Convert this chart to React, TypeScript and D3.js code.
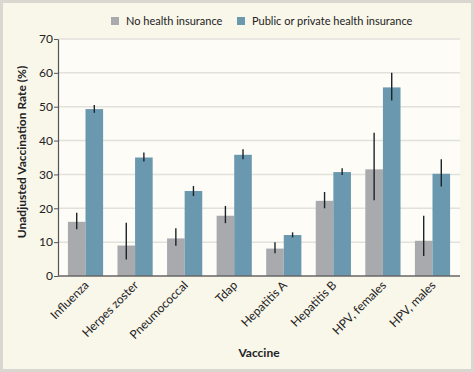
import React, { useEffect, useRef } from "react";
import * as d3 from "d3";

const vaccines = ["Influenza", "Herpes zoster", "Pneumococcal", "Tdap", "Hepatitis A", "Hepatitis B", "HPV, females", "HPV, males"];
const groups = ["No health insurance", "Public or private health insurance"];
const uninsured = [16.0, 9.0, 11.1, 17.8, 8.1, 22.2, 31.5, 10.4];
const uninsuredLow = [13.8, 4.9, 8.9, 15.6, 6.7, 20.0, 22.4, 5.9];
const uninsuredHigh = [18.7, 15.7, 14.1, 20.7, 10.0, 24.8, 42.3, 17.8];
const insured = [49.3, 35.0, 25.1, 35.8, 12.1, 30.7, 55.7, 30.2];
const insuredLow = [48.2, 33.8, 23.6, 34.5, 11.4, 29.8, 51.8, 26.4];
const insuredHigh = [50.5, 36.5, 26.6, 37.4, 12.9, 31.8, 60.0, 34.5];
const yTicks = [0, 10, 20, 30, 40, 50, 60, 70];
const colors = ["#a9aaae", "#6a98af"];

const FONT = "Lato, 'Open Sans', sans-serif";

export default function App() {
  const ref = useRef<SVGSVGElement>(null);

  useEffect(() => {
    const svg = d3.select(ref.current);
    svg.selectAll("*").remove();

    const width = 474, height = 372;
    const margin = { top: 39, right: 14, bottom: 96, left: 58 };

    // frame
    svg.append("rect").attr("width", width).attr("height", height).attr("fill", "#d9d7cf");
    svg.append("rect").attr("x", 3).attr("y", 3).attr("width", width - 6).attr("height", height - 6).attr("fill", "#f9f6ea");

    const x0 = d3.scaleBand()
      .domain(vaccines)
      .range([margin.left, width - margin.right])
      .paddingInner(0.29)
      .paddingOuter(0.2);
    const x1 = d3.scaleBand().domain(groups).range([0, x0.bandwidth()]);
    const y = d3.scaleLinear().domain([0, 70]).range([height - margin.bottom, margin.top]);

    // plot background
    svg.append("rect")
      .attr("x", margin.left).attr("y", margin.top)
      .attr("width", width - margin.right - margin.left)
      .attr("height", height - margin.bottom - margin.top)
      .attr("fill", "#fdfcf7");

    // gridlines
    svg.append("g").selectAll("line")
      .data(yTicks.filter((d) => d > 0))
      .enter().append("line")
      .attr("x1", margin.left).attr("x2", width - margin.right)
      .attr("y1", (d) => y(d)).attr("y2", (d) => y(d))
      .attr("stroke", "#e2e1dc").attr("stroke-width", 1.5);

    // bars
    const series = [
      { vals: uninsured, lo: uninsuredLow, hi: uninsuredHigh },
      { vals: insured, lo: insuredLow, hi: insuredHigh },
    ];
    series.forEach((s, gi) => {
      const g = svg.append("g");
      g.selectAll("rect")
        .data(vaccines)
        .enter().append("rect")
        .attr("x", (d) => x0(d) + x1(groups[gi]))
        .attr("y", (d, i) => y(s.vals[i]))
        .attr("width", x1.bandwidth())
        .attr("height", (d, i) => y(0) - y(s.vals[i]))
        .attr("fill", colors[gi]);
      g.selectAll("line")
        .data(vaccines)
        .enter().append("line")
        .attr("x1", (d) => x0(d) + x1(groups[gi]) + x1.bandwidth() / 2)
        .attr("x2", (d) => x0(d) + x1(groups[gi]) + x1.bandwidth() / 2)
        .attr("y1", (d, i) => y(s.lo[i]))
        .attr("y2", (d, i) => y(s.hi[i]))
        .attr("stroke", "#1c2328").attr("stroke-width", 1.4);
    });

    // y axis
    const yAxis = svg.append("g")
      .attr("transform", `translate(${margin.left},0)`)
      .call(d3.axisLeft(y).tickValues(yTicks).tickSize(4).tickSizeOuter(0));
    yAxis.select(".domain").attr("stroke", "#555").attr("stroke-width", 1.2);
    yAxis.selectAll(".tick line").attr("stroke", "#555");
    yAxis.selectAll("text")
      .attr("font-family", FONT).attr("font-size", 12).attr("fill", "#222").attr("x", -5);

    // x axis
    const xAxis = svg.append("g")
      .attr("transform", `translate(0,${height - margin.bottom})`)
      .call(d3.axisBottom(x0).tickSize(0).tickSizeOuter(0));
    xAxis.select(".domain").attr("stroke", "#666").attr("stroke-width", 1.5)
      .attr("d", `M${margin.left},0H${width - margin.right}`);
    xAxis.selectAll("text")
      .attr("font-family", FONT).attr("font-size", 12).attr("fill", "#222")
      .attr("dy", 0).attr("y", 0)
      .attr("transform", "translate(4,10) rotate(-45)")
      .style("text-anchor", "end");

    // axis titles
    svg.append("text")
      .attr("transform", `translate(26,152) rotate(-90)`)
      .attr("text-anchor", "middle")
      .attr("font-family", FONT).attr("font-weight", "bold").attr("font-size", 12).attr("fill", "#222")
      .text("Unadjusted Vaccination Rate (%)");
    svg.append("text")
      .attr("x", (margin.left + width - margin.right) / 2).attr("y", 357)
      .attr("text-anchor", "middle")
      .attr("font-family", FONT).attr("font-weight", "bold").attr("font-size", 12).attr("fill", "#222")
      .text("Vaccine");

    // legend
    const legendX = [111, 237];
    groups.forEach((name, i) => {
      svg.append("rect").attr("x", legendX[i]).attr("y", 17).attr("width", 8).attr("height", 8).attr("fill", colors[i]);
      svg.append("text")
        .attr("x", legendX[i] + 15).attr("y", 25)
        .attr("font-family", FONT).attr("font-size", 11).attr("fill", "#222")
        .text(name);
    });
  }, []);

  return (
    <svg ref={ref} width={474} height={372} style={{ position: "absolute", left: 0, top: 0 }} />
  );
}
